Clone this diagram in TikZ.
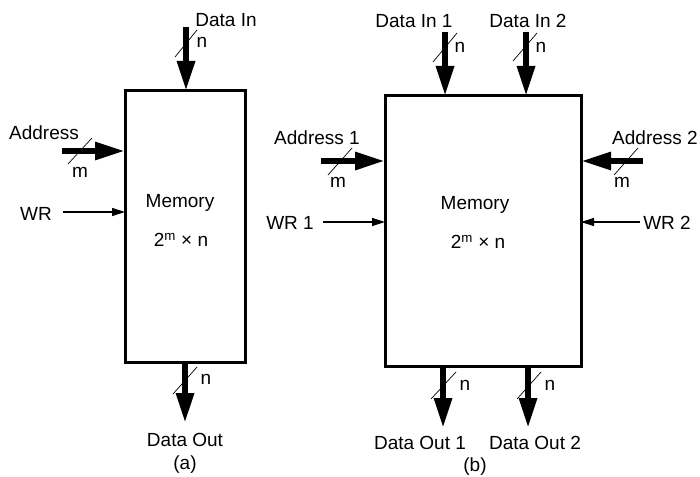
\documentclass[tikz,border=0pt]{standalone}
\usepackage{fontspec}
\setmainfont{Liberation Sans}
\usetikzlibrary{arrows.meta}
\begin{document}
\begin{tikzpicture}[x=1pt,y=-1pt,
  mem/.style={draw,line width=3pt,inner sep=0pt,outer sep=0pt},
  bus/.style={line width=6pt,-{Triangle[length=30pt,width=17pt]}},
  sig/.style={line width=1.3pt,-{Triangle[length=13pt,width=8pt]}},
  slash/.style={line width=0.7pt},
  lbl/.style={font=\fontsize{19}{22}\selectfont,inner sep=0pt}]
\useasboundingbox (0,0) rectangle (700,476);

% ---------- (a) ----------
\node[mem,minimum width=120pt,minimum height=271pt] (memA) at (185,226.5) {};
\node[lbl] (memAt) at (180,203) {Memory};
\node[lbl] (memAs) at (181,240) {2\textsuperscript{m} × n};

\coordinate (dinA) at (186,27);
\draw[bus] (dinA) -- (dinA |- memA.north);
\draw[slash] (175,57) -- (197,30);
\node[lbl] (dinAn) at (202,42) {n};
\node[lbl] (dinAt) at (226,20) {Data In};

\coordinate (adrA) at (62,151);
\draw[bus] (adrA) -- (adrA -| memA.west);
\draw[slash] (68,164) -- (92,138);
\node[lbl] (adrAm) at (80,172) {m};
\node[lbl] (adrAt) at (44,133) {Address};

\coordinate (wrA) at (63,212);
\draw[sig] (wrA) -- (wrA -| memA.west);
\node[lbl] (wrAt) at (36,214) {WR};

\coordinate (doutA) at (185,423);
\draw[bus] (doutA |- memA.south) -- (doutA);
\draw[slash] (173,394) -- (197,367);
\node[lbl] (doutAn) at (206,379) {n};
\node[lbl] (doutAt) at (185,440) {Data Out};
\node[lbl] (capA) at (185,465) {(a)};

% ---------- (b) ----------
\node[mem,minimum width=196pt,minimum height=270pt] (memB) at (483,231) {};
\node[lbl] (memBt) at (475,205) {Memory};
\node[lbl] (memBs) at (478,242) {2\textsuperscript{m} × n};

\coordinate (din1) at (445,32);
\draw[bus] (din1) -- (din1 |- memB.north);
\draw[slash] (433,62) -- (457,33);
\node[lbl] (din1n) at (460,47) {n};
\node[lbl] (din1t) at (414,21) {Data In 1};

\coordinate (din2) at (526,32);
\draw[bus] (din2) -- (din2 |- memB.north);
\draw[slash] (513,61) -- (537,33);
\node[lbl] (din2n) at (541,47) {n};
\node[lbl] (din2t) at (528,21) {Data In 2};

\coordinate (adr1) at (321,161);
\draw[bus] (adr1) -- (adr1 -| memB.west);
\draw[slash] (328,175) -- (352,148);
\node[lbl] (adr1m) at (338,182) {m};
\node[lbl] (adr1t) at (317,138) {Address 1};

\coordinate (adr2) at (643,161);
\draw[bus] (adr2) -- (adr2 -| memB.east);
\draw[slash] (614,175) -- (638,148);
\node[lbl] (adr2m) at (622,182) {m};
\node[lbl] (adr2t) at (655,138) {Address 2};

\coordinate (wr1) at (323,222);
\draw[sig] (wr1) -- (wr1 -| memB.west);
\node[lbl] (wr1t) at (290,223) {WR 1};

\coordinate (wr2) at (640,222);
\draw[sig] (wr2) -- (wr2 -| memB.east);
\node[lbl] (wr2t) at (667,223) {WR 2};

\coordinate (dout1) at (443,428);
\draw[bus] (dout1 |- memB.south) -- (dout1);
\draw[slash] (431,399) -- (456,372);
\node[lbl] (dout1n) at (465,385) {n};
\node[lbl] (dout1t) at (420,443) {Data Out 1};

\coordinate (dout2) at (528,428);
\draw[bus] (dout2 |- memB.south) -- (dout2);
\draw[slash] (517,399) -- (541,372);
\node[lbl] (dout2n) at (550,385) {n};
\node[lbl] (dout2t) at (535,443) {Data Out 2};
\node[lbl] (capB) at (475,467) {(b)};
\end{tikzpicture}
\end{document}
